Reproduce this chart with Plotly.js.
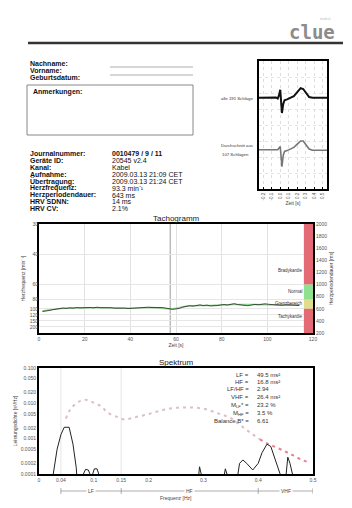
<!DOCTYPE html>
<html><head><meta charset="utf-8">
<script src="https://cdn.plot.ly/plotly-3.0.1.min.js"></script>
<style>html,body{margin:0;padding:0;background:#fff}#c{width:352px;height:508px}</style>
</head><body><div id="c"></div>
<script>
// ---------- DATA ----------
const infoLabels = ["Journalnummer:", "Geräte ID:", "Kanal:", "Aufnahme:", "Übertragung:", "Herzfrequenz:", "Herzperiodendauer:", "HRV SDNN:", "HRV CV:"];
const infoValues = ["<b>0010479 / 9 / 11</b>", "20545 v2.4", "Kabel", "2009.03.13 21:09 CET", "2009.03.13 21:24 CET", "93.3 min⁻¹", "643 ms", "14 ms", "2.1%"];

const ecgTime = [-0.25,-0.2,-0.1,-0.05,-0.03,-0.015,0,0.01,0.02,0.035,0.05,0.08,0.12,0.16,0.2,0.24,0.27,0.3,0.34,0.38,0.45,0.55];
const ecgAll  = [5.7,5.7,5.72,5.72,5.65,5.85,6.2,5.4,4.75,5.3,5.55,5.6,5.7,5.8,6.05,6.3,6.25,6.0,5.75,5.7,5.7,5.7];
const ecgAvg  = [2.45,2.45,2.47,2.47,2.45,2.55,2.65,2.0,1.4,2.1,2.35,2.4,2.5,2.6,2.8,3.0,3.0,2.8,2.5,2.42,2.42,2.42];
const ecgTicks = [-0.2,-0.1,0,0.1,0.2,0.3,0.4,0.5];

const tachoTime = [1.5,3,4.5,6,7.5,9,10.5,12,13.5,15,
  16.5,18,19.5,21,22.5,24,25.5,27,28.5,30,
  31.5,33,34.5,36,37.5,39,40.5,42,43.5,45,
  46.5,48,49.5,51,52.5,54,55.5,57,58.5,60,
  61.5,63,64.5,66,67.5,69,70.5,72,73.5,75,
  76.5,78,79.5,81,82.5,84,85.5,87,88.5,90,
  91.5,93,94.5,96,97.5,99,100.5,102,103.5,105,
  106.5,108,109.5,111,112.5,114];
const tachoMs = [555,560,572,585,598,604,612,606,615,610,
  620,614,618,612,622,616,626,618,622,614,
  618,610,612,606,610,604,608,612,618,614,
  622,626,620,624,616,620,612,600,590,598,
  606,628,642,650,644,658,664,652,660,648,
  644,652,662,670,662,678,684,670,664,656,
  650,662,672,666,676,682,674,668,660,654,
  658,664,668,662,658,654];
const trendTime = [1.5,10,20,30,40,50,58,65,75,85,95,105,114];
const trendMs   = [565,605,617,615,610,620,600,645,655,670,670,660,657];
const bpmTicks  = [30,40,60,80,100,120,150,200];
const msTicks   = [200,400,600,800,1000,1200,1400,1600,1800,2000];
const zoneNames = ["Bradykardie","Normal","Grenzbereich","Tachykardie"];
const zoneLow   = [1000,750,600,200];
const zoneHigh  = [2000,1000,750,600];
const zoneLabelMs = [1240,880,680,470];
const zoneColors = ["#e46a76","#8fe08f","#e2dd8c","#e46a76"];

const specFreq = [0,0.022,0.026,0.033,0.04,0.046,0.055,0.062,0.068,0.07,0.078,0.081,0.085,0.09,0.093,0.095,0.098,0.101,0.106,0.109,0.112,0.29,0.291,0.293,0.296,0.298,0.335,0.338,0.340,0.343,0.345,0.36,0.363,0.366,0.372,0.379,0.39,0.40,0.407,0.416,0.423,0.43,0.44,0.443,0.448,0.451,0.454,0.458,0.463,0.467,0.5];
const specPow  = [0.00005,0.00005,0.0001,0.0005,0.0013,0.0021,0.0021,0.0007,0.00015,0.00005,0.00005,0.0001,0.000135,0.00013,0.0001,0.00008,0.0001,0.00014,0.00014,0.0001,0.00005,0.00005,0.00008,0.00016,0.0001,0.00005,0.00005,0.00009,0.00014,0.0001,0.00005,0.00005,0.0001,0.0002,0.00025,0.0002,0.00013,0.0002,0.0004,0.0007,0.0006,0.0003,0.0001,0.00005,0.00005,0.0001,0.0003,0.0002,0.0001,0.00005,0.00005];
const envFreq = [0.049,0.057,0.070,0.084,0.099,0.114,0.125,0.141,0.156,0.174,0.196,0.216,0.238,0.260,0.280,0.299,0.317,0.333,0.348,0.366,0.385,0.403];
const envPow  = [0.0037,0.0067,0.0105,0.0127,0.0105,0.0081,0.0055,0.0042,0.0035,0.0040,0.0048,0.0059,0.0071,0.0076,0.0076,0.0071,0.0059,0.0048,0.0040,0.0025,0.0015,0.00096];
const vhfFreq = [0.403,0.419,0.436,0.451,0.463,0.480,0.495];
const vhfPow  = [0.00096,0.00070,0.00054,0.00042,0.00034,0.00025,0.00021];
const specXTicks = [0,0.04,0.1,0.15,0.2,0.3,0.4,0.5];
const specXText  = ["0","0.04","0.1","0.15","0.2","0.3","0.4","0.5"];
const specYTicks = [0.1,0.05,0.02,0.01,0.005,0.002,0.001,0.0005,0.0002,0.0001];
const specYText  = ["0.100","0.050","0.020","0.010","0.005","0.002","0.001","0.0005","0.0002","0.0001"];
const bandNames = ["LF","HF","VHF"];
const bandEdges = [0.04,0.15,0.4,0.5];
const statLabels = ["LF =","HF =","LF/HF =","VHF =","M<sub>LF</sub>* =","M<sub>HF</sub> =","Balance B* ="];
const statValues = ["49.5 ms²","16.8 ms²","2.94","26.4 ms²","23.2 %","3.5 %","6.61"];

// ---------- HELPERS ----------
const W = 352, H = 508;
const px = x => x / W;
const py = y => 1 - y / H;
const FONT = "Liberation Sans, Arial, sans-serif";
const TICK = {family: FONT, size: 5, color: "#555"};
const ann = [];
const shp = [];
function text(t, x, y, o) {
  ann.push(Object.assign({text: t, x: px(x), y: py(y), xref: "paper", yref: "paper", showarrow: false,
    xanchor: "left", yanchor: "middle", font: {family: FONT, size: 7, color: "#111"}}, o || {}));
}

// header
text("<b>clue</b>", 337, 32, {xanchor: "right", font: {family: "DejaVu Sans Mono", size: 19, color: "#8c8c8c"}});
text("medical", 333, 19, {xanchor: "right", font: {family: FONT, size: 3, color: "#bbb"}});
shp.push({type: "line", xref: "paper", yref: "paper", x0: px(28), x1: px(343), y0: py(43), y1: py(43), line: {color: "#333", width: 2.5}});

// person fields
text("<b>Nachname:</b>", 28, 63);
text("<b>Vorname:</b>", 28, 71);
text("<b>Geburtsdatum:</b>", 28, 78);
[67, 75].forEach(y => shp.push({type: "line", xref: "paper", yref: "paper", x0: px(110), x1: px(193), y0: py(y), y1: py(y), line: {color: "#999", width: 0.8}}));
shp.push({type: "rect", xref: "paper", yref: "paper", x0: px(27), x1: px(193), y0: py(85), y1: py(135), line: {color: "#888", width: 1}});
text("<b>Anmerkungen:</b>", 31, 92);

// info list
infoLabels.forEach((l, i) => {
  text("<b>" + l + "</b>", 28, 153 + i * 7);
  text(infoValues[i], 110, 153 + i * 7);
});

// ECG labels
const small = {family: FONT, size: 4.3, color: "#333"};
text("alle 191 Schläge", 255, 98, {xanchor: "right", font: small});
text("Durchschnitt aus", 255, 146, {xanchor: "right", font: small});
text("107 Schlägen", 251, 154, {xanchor: "right", font: small});

// titles
text("Tachogramm", 176, 218, {xanchor: "center", font: {family: FONT, size: 8, color: "#222"}});
text("Spektrum", 176, 362, {xanchor: "center", font: {family: FONT, size: 8, color: "#222"}});

// tachogram zones
zoneNames.forEach((n, i) => {
  shp.push({type: "rect", xref: "x2", yref: "y2", x0: 116, x1: 120, y0: zoneLow[i], y1: zoneHigh[i], fillcolor: zoneColors[i], line: {width: 0}, layer: "above"});
  ann.push({text: n, x: 116.5, y: zoneLabelMs[i], xref: "x2", yref: "y2", showarrow: false, xanchor: "right", yanchor: "middle", font: {family: FONT, size: 4.5, color: "#333"}});
});
shp.push({type: "line", xref: "x2", yref: "y2", x0: 57.5, x1: 57.5, y0: 200, y1: 2000, line: {color: "#bbb", width: 1.5}, layer: "below"});

// spectrum stats
statLabels.forEach((l, i) => {
  const y = [375, 382, 389, 397, 405, 413, 421][i];
  text(l, 251, y, {xanchor: "right", font: {family: FONT, size: 6, color: "#333"}});
  text(statValues[i], 255, y, {font: {family: FONT, size: 6, color: "#333"}});
});
// spectrum vertical guides
[0.04, 0.15].forEach(f => shp.push({type: "line", xref: "x3", yref: "paper", x0: f, x1: f, y0: py(474), y1: py(368), line: {color: "#e6e6e6", width: 1}, layer: "below"}));
// bands under spectrum
shp.push({type: "line", xref: "x3", yref: "paper", x0: bandEdges[0], x1: bandEdges[3], y0: py(491), y1: py(491), line: {color: "#777", width: 0.6}});
bandEdges.forEach(f => shp.push({type: "line", xref: "x3", yref: "paper", x0: f, x1: f, y0: py(488), y1: py(494), line: {color: "#777", width: 0.6}}));
bandNames.forEach((n, i) => {
  ann.push({text: n, x: (bandEdges[i] + bandEdges[i + 1]) / 2, y: py(491), xref: "x3", yref: "paper", showarrow: false, xanchor: "center", yanchor: "middle", bgcolor: "#fff", borderpad: 1, font: {family: FONT, size: 5, color: "#444"}});
});
text("Frequenz [Hz]", 176, 498, {xanchor: "center", font: {family: FONT, size: 5, color: "#444"}});

// ---------- TRACES ----------
const traces = [
  {x: ecgTime, y: ecgAll, xaxis: "x", yaxis: "y", mode: "lines", line: {color: "#111", width: 2}},
  {x: ecgTime, y: ecgAvg, xaxis: "x", yaxis: "y", mode: "lines", line: {color: "#777", width: 1.6}},
  {x: trendTime, y: trendMs, xaxis: "x2", yaxis: "y2", mode: "lines", line: {color: "#8ad88a", width: 1.4, shape: "spline"}},
  {x: tachoTime, y: tachoMs, xaxis: "x2", yaxis: "y2", mode: "lines", line: {color: "#222", width: 0.8}},
  {x: envFreq, y: envPow, xaxis: "x3", yaxis: "y4", mode: "lines", line: {color: "#dcc0c4", width: 2, dash: "3px,4px", shape: "spline"}},
  {x: vhfFreq, y: vhfPow, xaxis: "x3", yaxis: "y4", mode: "lines", line: {color: "#e88090", width: 2, dash: "3px,4px", shape: "spline"}},
  {x: specFreq, y: specPow, xaxis: "x3", yaxis: "y4", mode: "lines", line: {color: "#222", width: 1}}
];

const frame = {showline: true, mirror: true, linecolor: "#000", linewidth: 2, zeroline: false};
const layout = {
  width: W, height: H, margin: {l: 0, r: 0, t: 0, b: 0}, paper_bgcolor: "#fff", plot_bgcolor: "rgba(0,0,0,0)",
  showlegend: false, font: {family: FONT},
  xaxis: Object.assign({domain: [px(259), px(327)], anchor: "y", range: [-0.25, 0.55], tickvals: ecgTicks,
    ticktext: ecgTicks.map(v => v.toFixed(1)), tickangle: -90, tickfont: {family: FONT, size: 4.5, color: "#555"},
    showgrid: true, gridcolor: "#ddd", griddash: "dot", ticks: "inside", ticklen: 2, tickcolor: "#000",
    title: {text: "Zeit [s]", font: {family: FONT, size: 5, color: "#444"}, standoff: 2}}, frame),
  yaxis: Object.assign({domain: [py(189), py(61)], anchor: "x", range: [0, 8], dtick: 1, showticklabels: false,
    showgrid: true, gridcolor: "#e4e4e4", griddash: "dot"}, frame),
  xaxis2: Object.assign({domain: [px(39), px(313)], anchor: "y2", range: [0, 120], dtick: 20, tickfont: TICK,
    showgrid: true, gridcolor: "#e2e2e2", ticks: "",
    title: {text: "Zeit [s]", font: {family: FONT, size: 5, color: "#444"}, standoff: 1}}, frame),
  yaxis2: Object.assign({domain: [py(333), py(224)], anchor: "x2", side: "right", range: [200, 2000], tickvals: msTicks,
    tickfont: TICK, showgrid: false, ticks: "",
    title: {text: "Herzperiodendauer [ms]", font: {family: FONT, size: 5, color: "#444"}, standoff: 3}}, frame),
  yaxis3: {overlaying: "y2", anchor: "x2", side: "left", range: [200, 2000], tickvals: bpmTicks.map(b => 60000 / b),
    ticktext: bpmTicks.map(String), tickfont: TICK, showgrid: true, gridcolor: "#e6e6e6", zeroline: false, ticks: "",
    title: {text: "Herzfrequenz [min⁻¹]", font: {family: FONT, size: 5, color: "#444"}, standoff: 3}},
  xaxis3: Object.assign({domain: [px(39), px(313)], anchor: "y4", range: [0, 0.5], tickvals: specXTicks, ticktext: specXText,
    tickfont: TICK, showgrid: false, ticks: ""}, frame),
  yaxis4: Object.assign({domain: [py(474), py(368)], anchor: "x3", type: "log", range: [-4, -1], tickvals: specYTicks,
    ticktext: specYText, tickfont: TICK, showgrid: false, ticks: "",
    title: {text: "Leistungsdichte [s²/Hz]", font: {family: FONT, size: 5, color: "#444"}, standoff: 3}}, frame),
  annotations: ann, shapes: shp
};
traces.push({x: [0], y: [200], xaxis: "x2", yaxis: "y3", mode: "markers", marker: {opacity: 0}, hoverinfo: "skip"});
Plotly.newPlot("c", traces, layout, {staticPlot: true});
</script></body></html>
